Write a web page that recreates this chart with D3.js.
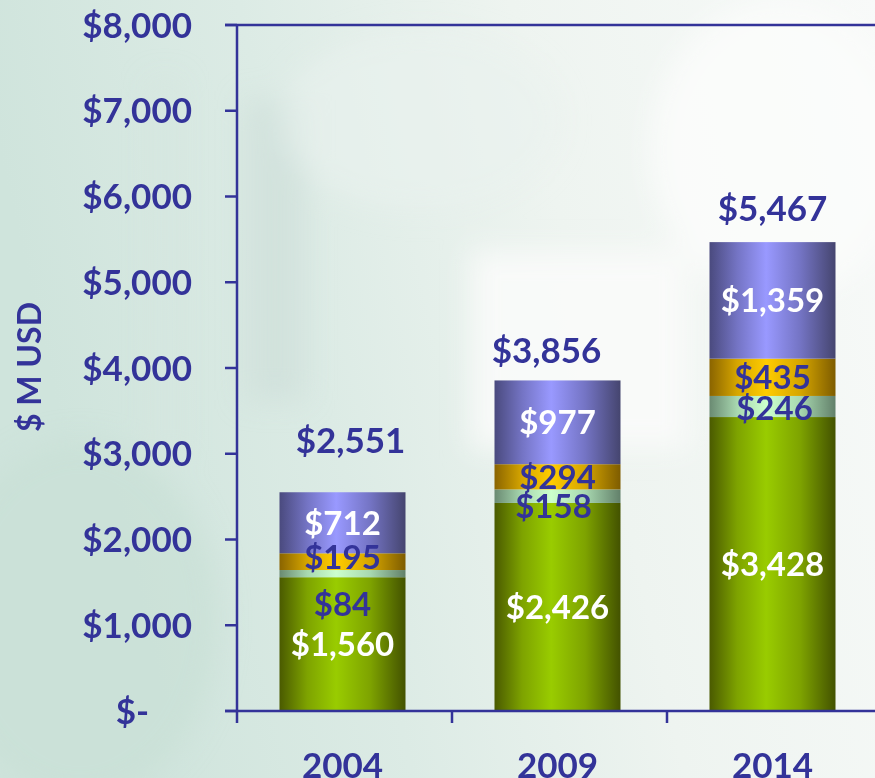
<!DOCTYPE html>
<html><head><meta charset="utf-8">
<script src="https://cdn.jsdelivr.net/npm/d3@7"></script>
<style>html,body{margin:0;padding:0;background:#eef4f1;overflow:hidden}svg{display:block}</style>
</head><body>
<svg id="chart" width="875" height="778"></svg>
<script>
const years = ["2004", "2009", "2014"];
const seriesNames = ["green", "mint", "gold", "purple"];
const greenVals  = [1560, 2426, 3428];
const mintVals   = [84, 158, 246];
const goldVals   = [195, 294, 435];
const purpleVals = [712, 977, 1359];
const totals     = [2551, 3856, 5467];
const yTicks     = [0, 1000, 2000, 3000, 4000, 5000, 6000, 7000, 8000];
const yTickLabels = ["$-", "$1,000", "$2,000", "$3,000", "$4,000", "$5,000", "$6,000", "$7,000", "$8,000"];
const yTitle = "$ M USD";

const ink = "#333399";
const svg = d3.select("#chart");
const W = 875, H = 778;
const defs = svg.append("defs");

// ---- background ----
const bg = defs.append("linearGradient").attr("id","bgGrad").attr("x1",0).attr("y1",0.2).attr("x2",1).attr("y2",0);
bg.append("stop").attr("offset","0%").attr("stop-color","#cfe4dc");
bg.append("stop").attr("offset","30%").attr("stop-color","#dcebe5");
bg.append("stop").attr("offset","60%").attr("stop-color","#eef4f0");
bg.append("stop").attr("offset","100%").attr("stop-color","#f8faf9");
svg.append("rect").attr("width",W).attr("height",H).attr("fill","url(#bgGrad)");
const blur = defs.append("filter").attr("id","blur").attr("x","-50%").attr("y","-50%").attr("width","200%").attr("height","200%");
blur.append("feGaussianBlur").attr("stdDeviation",14);
const bgShapes = svg.append("g").attr("filter","url(#blur)");
bgShapes.append("ellipse").attr("cx",80).attr("cy",620).attr("rx",140).attr("ry",180).attr("fill","#c9dfd6").attr("opacity",0.7);
bgShapes.append("rect").attr("x",245).attr("y",100).attr("width",60).attr("height",300).attr("fill","#d0e0db").attr("opacity",0.8);
bgShapes.append("rect").attr("x",150).attr("y",80).attr("width",30).attr("height",380).attr("fill","#d6e6e0").attr("opacity",0.6);
bgShapes.append("rect").attr("x",470).attr("y",250).attr("width",220).attr("height",200).attr("fill","#f9fbfa").attr("opacity",0.9);
bgShapes.append("ellipse").attr("cx",780).attr("cy",150).attr("rx",130).attr("ry",150).attr("fill","#fbfcfb").attr("opacity",0.9);
bgShapes.append("ellipse").attr("cx",420).attr("cy",120).attr("rx",140).attr("ry",90).attr("fill","#e9f2ee").attr("opacity",0.6);

// ---- scales ----
const x0 = 237, yTop = 25, yBase = 711;
const bandW = 215;
const x = d3.scaleBand().domain(years).range([x0, x0 + bandW * years.length]).paddingInner(0).paddingOuter(0);
const y = d3.scaleLinear().domain([0, 8000]).range([yBase, yTop]);
const barW = 126;

// ---- gradients for bars ----
const gradSpecs = {
  green:  ["#4a5a00", "#7ea300", "#99cc00", "#7ea300", "#435200"],
  mint:   ["#6a8a72", "#a8d8b0", "#ccffcc", "#a8d8b0", "#62806a"],
  gold:   ["#8a6400", "#d6a600", "#ffcc00", "#d6a600", "#7e5c00"],
  purple: ["#4a4a7e", "#7474c4", "#9999ff", "#7474c4", "#45456f"]
};
Object.entries(gradSpecs).forEach(([k, cols]) => {
  const g = defs.append("linearGradient").attr("id","g_"+k).attr("x1",0).attr("x2",1).attr("y1",0).attr("y2",0);
  const offs = [0, 0.22, 0.45, 0.72, 1];
  cols.forEach((c,i) => g.append("stop").attr("offset", offs[i]).attr("stop-color", c));
});

// ---- stack ----
const rows = years.map((yr, i) => ({year: yr, green: greenVals[i], mint: mintVals[i], gold: goldVals[i], purple: purpleVals[i]}));
const stack = d3.stack().keys(seriesNames)(rows);
const barX = yr => x(yr) + x.bandwidth() / 2 - 2 - barW / 2;

const bars = svg.append("g");
stack.forEach(layer => {
  bars.selectAll(null).data(layer).enter().append("rect")
    .attr("x", d => barX(d.data.year))
    .attr("width", barW)
    .attr("y", d => y(d[1]))
    .attr("height", d => y(d[0]) - y(d[1]))
    .attr("fill", "url(#g_" + layer.key + ")");
});

// ---- axes ----
const axisG = svg.append("g").attr("stroke", ink).attr("stroke-width", 2.5).attr("fill","none");
axisG.append("line").attr("x1", x0).attr("x2", x0).attr("y1", yTop).attr("y2", yBase + 12);
axisG.append("line").attr("x1", x0 - 12).attr("x2", W).attr("y1", yBase).attr("y2", yBase);
axisG.append("line").attr("x1", x0 - 12).attr("x2", W).attr("y1", yTop).attr("y2", yTop);
yTicks.forEach(t => axisG.append("line").attr("x1", x0 - 12).attr("x2", x0).attr("y1", y(t)).attr("y2", y(t)));
years.forEach((yr, i) => { if (i > 0) axisG.append("line").attr("x1", x(yr)).attr("x2", x(yr)).attr("y1", yBase).attr("y2", yBase + 12); });

const font = "Lato, 'Open Sans', sans-serif";
const tl = svg.append("g").attr("font-family", font).attr("font-weight", 700).attr("fill", ink).attr("font-size", 35);
yTicks.forEach((t, i) => {
  tl.append("text").attr("x", t === 0 ? 149 : 192).attr("y", y(t)).attr("dy", "0.36em")
    .attr("text-anchor", "end").text(yTickLabels[i]);
});
years.forEach(yr => {
  tl.append("text").attr("x", x(yr) + x.bandwidth()/2 - 2).attr("y", 778)
    .attr("text-anchor", "middle").attr("font-size", 35).text(yr);
});
svg.append("text").attr("transform", "translate(29,367) rotate(-90)").attr("text-anchor","middle").attr("dy","0.36em")
  .attr("font-family", font).attr("font-weight", 700).attr("font-size", 32).attr("fill", ink).text(yTitle);

// ---- value labels ----
const fmt = v => "$" + d3.format(",")(v);
const labelColor = {green: "#ffffff", mint: ink, gold: ink, purple: "#ffffff"};
const nudge = {green: [0,0,0], mint: [30,10,2], gold: [-5,0,0], purple: [0,0,0]};
const nudgeX = {green: [0,0,0], mint: [0,-4,2], gold: [0,0,0], purple: [0,0,0]};
const lbl = svg.append("g").attr("font-family", font).attr("font-weight", 700).attr("font-size", 33).attr("text-anchor","middle");
stack.forEach(layer => {
  layer.forEach((d, i) => {
    lbl.append("text")
      .attr("x", barX(d.data.year) + barW/2 + nudgeX[layer.key][i])
      .attr("y", (y(d[0]) + y(d[1]))/2 + nudge[layer.key][i])
      .attr("dy", "0.36em").attr("fill", labelColor[layer.key]).text(fmt(d.data[layer.key]));
  });
});
const totalOffset = [52, 30, 34];
const totalDx = [8, -11, 0];
totals.forEach((t, i) => {
  lbl.append("text").attr("x", barX(years[i]) + barW/2 + totalDx[i]).attr("y", y(t) - totalOffset[i])
    .attr("dy","0.36em").attr("font-size", 35).attr("fill", ink).text(fmt(t));
});
</script>
</body></html>
